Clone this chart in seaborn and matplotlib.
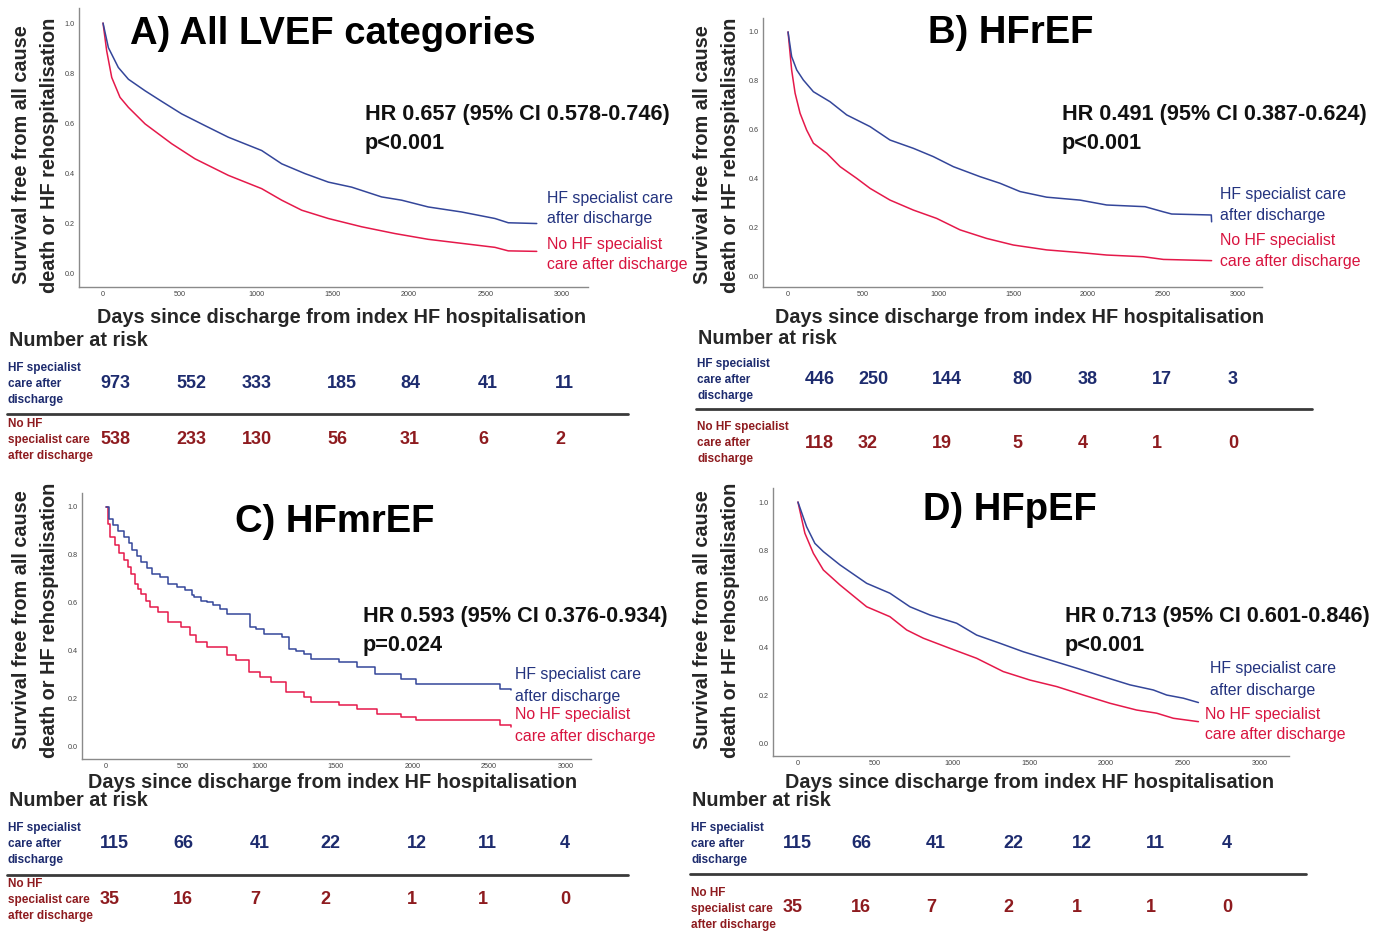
import seaborn as sns
import matplotlib.pyplot as plt
from matplotlib.ticker import FormatStrFormatter

W, H = 1386, 933

# ---------------- data ----------------
panel_titles = ["A) All LVEF categories", "B) HFrEF", "C) HFmrEF", "D) HFpEF"]
hr_texts = ["HR 0.657 (95% CI 0.578-0.746)", "HR 0.491 (95% CI 0.387-0.624)",
            "HR 0.593 (95% CI 0.376-0.934)", "HR 0.713 (95% CI 0.601-0.846)"]
p_texts = ["p<0.001", "p<0.001", "p=0.024", "p<0.001"]

x_ticks = [0, 500, 1000, 1500, 2000, 2500, 3000]
y_ticks = [0.0, 0.2, 0.4, 0.6, 0.8, 1.0]

# A) all LVEF
a_hf_days = [0, 35, 100, 166, 275, 383, 514, 667, 819, 1037, 1168, 1320, 1473, 1625, 1821,
             1952, 2126, 2344, 2453, 2562, 2649, 2835]
a_hf_surv = [1.0, 0.902, 0.823, 0.776, 0.73, 0.688, 0.638, 0.591, 0.545, 0.492, 0.439, 0.4,
             0.366, 0.346, 0.307, 0.294, 0.267, 0.247, 0.234, 0.221, 0.204, 0.201]
a_no_days = [0, 24, 57, 111, 166, 275, 449, 601, 819, 1037, 1168, 1299, 1473, 1691, 1908,
             2126, 2344, 2562, 2649, 2835]
a_no_surv = [1.0, 0.889, 0.783, 0.704, 0.664, 0.598, 0.519, 0.459, 0.393, 0.34, 0.294, 0.254,
             0.221, 0.188, 0.161, 0.138, 0.122, 0.106, 0.092, 0.09]

# B) HFrEF
b_hf_days = [0, 24, 58, 102, 169, 280, 391, 547, 680, 836, 969, 1102, 1280, 1413, 1547, 1724,
             1947, 2124, 2380, 2502, 2558, 2822, 2824]
b_hf_surv = [1.0, 0.899, 0.844, 0.803, 0.755, 0.714, 0.66, 0.612, 0.557, 0.523, 0.489, 0.448,
             0.407, 0.38, 0.346, 0.323, 0.311, 0.291, 0.284, 0.263, 0.254, 0.25, 0.222]
b_no_days = [0, 24, 47, 80, 124, 169, 258, 347, 458, 547, 680, 836, 991, 1147, 1324, 1502,
             1724, 1947, 2124, 2369, 2502, 2824]
b_no_surv = [1.0, 0.844, 0.749, 0.667, 0.598, 0.544, 0.503, 0.448, 0.4, 0.359, 0.311, 0.27,
             0.236, 0.189, 0.154, 0.127, 0.107, 0.096, 0.086, 0.079, 0.068, 0.063]

# C) HFmrEF (visible steps)
c_hf_days = [0, 20, 43, 80, 115, 150, 172, 200, 230, 265, 302, 350, 402, 460, 517, 560, 575,
             620, 661, 700, 747, 790, 943, 980, 1034, 1149, 1193, 1240, 1293, 1336, 1523,
             1638, 1753, 1925, 2026, 2572, 2644]
c_hf_surv = [1.0, 0.95, 0.924, 0.9, 0.875, 0.85, 0.819, 0.795, 0.771, 0.745, 0.722, 0.71,
             0.681, 0.665, 0.653, 0.635, 0.625, 0.61, 0.604, 0.59, 0.576, 0.556, 0.5, 0.49,
             0.472, 0.458, 0.41, 0.4, 0.389, 0.365, 0.354, 0.333, 0.306, 0.285, 0.264, 0.24,
             0.236]
c_no_days = [0, 15, 29, 60, 86, 115, 144, 165, 187, 210, 230, 260, 287, 340, 402, 489, 546,
             589, 661, 790, 850, 934, 1006, 1078, 1178, 1293, 1336, 1523, 1638, 1767, 1925,
             2026, 2572, 2644]
c_no_surv = [1.0, 0.93, 0.875, 0.84, 0.806, 0.78, 0.75, 0.72, 0.681, 0.66, 0.639, 0.61,
             0.583, 0.5625, 0.521, 0.5, 0.465, 0.4375, 0.417, 0.382, 0.364, 0.3125, 0.292,
             0.271, 0.229, 0.208, 0.1875, 0.174, 0.16, 0.139, 0.125, 0.111, 0.09, 0.083]

# D) HFpEF
d_hf_days = [0, 56, 110, 165, 273, 446, 597, 727, 857, 1030, 1160, 1312, 1463, 1636, 1810,
             1983, 2156, 2307, 2394, 2502, 2600]
d_hf_surv = [1.0, 0.898, 0.829, 0.795, 0.74, 0.664, 0.623, 0.567, 0.533, 0.499, 0.45, 0.416,
             0.381, 0.347, 0.313, 0.278, 0.244, 0.223, 0.202, 0.189, 0.171]
d_no_days = [0, 45, 100, 165, 273, 446, 597, 706, 814, 987, 1160, 1333, 1506, 1680, 1853,
             2026, 2199, 2329, 2437, 2600]
d_no_surv = [1.0, 0.871, 0.788, 0.719, 0.657, 0.567, 0.526, 0.471, 0.437, 0.395, 0.354, 0.299,
             0.264, 0.237, 0.202, 0.168, 0.14, 0.127, 0.106, 0.092]

# numbers at risk
a_risk_hf = [973, 552, 333, 185, 84, 41, 11]
a_risk_no = [538, 233, 130, 56, 31, 6, 2]
b_risk_hf = [446, 250, 144, 80, 38, 17, 3]
b_risk_no = [118, 32, 19, 5, 4, 1, 0]
c_risk_hf = [115, 66, 41, 22, 12, 11, 4]
c_risk_no = [35, 16, 7, 2, 1, 1, 0]
d_risk_hf = [115, 66, 41, 22, 12, 11, 4]
d_risk_no = [35, 16, 7, 2, 1, 1, 0]

leg_hf = ["HF specialist care", "after discharge"]
leg_no = ["No HF specialist", "care after discharge"]
row_hf = ["HF specialist", "care after", "discharge"]
row_no_a = ["No HF", "specialist care", "after discharge"]
row_no_b = ["No HF specialist", "care after", "discharge"]

# ---------------- layout (pixels) ----------------
LAYOUT = [
    dict(ax=(79, 8, 588, 287), xlim=(-157, 3170), ylim=(-0.052, 1.06), title=(130, 44),
         hr=(365, 120, 149), leg=(547, 547, [198, 219, 245, 265]), ylab=(22, 50, 155),
         xlab=(342, 318), nar=(9, 341), labx=8, r1=([368, 384, 400], 384), sep=(414, 7, 628),
         r2=([424, 440, 456], 440), cols=[100, 176, 242, 327, 400, 478, 555]),
    dict(ax=(763, 18, 1262, 287), xlim=(-167, 3160), ylim=(-0.045, 1.057), title=(928, 43),
         hr=(1062, 120, 149), leg=(1220, 1220, [194, 215, 240, 262]), ylab=(703, 731, 155),
         xlab=(1020, 318), nar=(698, 338), labx=697, r1=([364, 380, 396], 379), sep=(409, 696, 1312),
         r2=([427, 443, 459], 443), cols=[805, 858, 932, 1012, 1078, 1152, 1228]),
    dict(ax=(82, 493, 591, 759), xlim=(-157, 3166), ylim=(-0.05, 1.058), title=(235, 532),
         hr=(363, 622, 651), leg=(515, 515, [675, 696, 714, 736]), ylab=(22, 50, 620),
         xlab=(333, 783), nar=(9, 801), labx=8, r1=([828, 844, 860], 843), sep=(875, 7, 628),
         r2=([884, 900, 916], 900), cols=[100, 173, 250, 320, 407, 478, 560]),
    dict(ax=(773, 488, 1289, 756), xlim=(-162, 3188), ylim=(-0.05, 1.058), title=(923, 520),
         hr=(1065, 622, 651), leg=(1210, 1205, [669, 690, 714, 735]), ylab=(703, 731, 620),
         xlab=(1030, 783), nar=(692, 801), labx=691, r1=([828, 844, 860], 844), sep=(874, 690, 1306),
         r2=([893, 909, 925], 908), cols=[783, 851, 926, 1003, 1072, 1146, 1222]),
]

curves = [
    (a_hf_days, a_hf_surv, a_no_days, a_no_surv, "default"),
    (b_hf_days, b_hf_surv, b_no_days, b_no_surv, "default"),
    (c_hf_days, c_hf_surv, c_no_days, c_no_surv, "steps-post"),
    (d_hf_days, d_hf_surv, d_no_days, d_no_surv, "default"),
]
risks = [(a_risk_hf, a_risk_no, row_no_a), (b_risk_hf, b_risk_no, row_no_b),
         (c_risk_hf, c_risk_no, row_no_a), (d_risk_hf, d_risk_no, row_no_a)]

BLUE_LINE, RED_LINE = "#34469a", "#e5194a"
BLUE_TXT, RED_TXT = "#23337f", "#d8143f"
BLUE_TAB, RED_TAB = "#1d2b6e", "#8e1b1f"

sns.set_theme(style="white")
plt.rcParams["font.family"] = ["Liberation Sans", "DejaVu Sans"]

fig = plt.figure(figsize=(W / 100, H / 100), dpi=100)


def fx(x):
    return x / W


def fy(y):
    return 1 - y / H


for i, lay in enumerate(LAYOUT):
    l, t, r, b = lay["ax"]
    ax = fig.add_axes([fx(l), fy(b), (r - l) / W, (b - t) / H])
    hd, hs, nd, ns, style = curves[i]
    sns.lineplot(x=nd, y=ns, ax=ax, color=RED_LINE, lw=1.1, estimator=None, sort=False,
                 drawstyle=style)
    sns.lineplot(x=hd, y=hs, ax=ax, color=BLUE_LINE, lw=1.1, estimator=None, sort=False,
                 drawstyle=style)
    ax.set_xlim(*lay["xlim"])
    ax.set_ylim(*lay["ylim"])
    ax.set_xticks(x_ticks)
    ax.set_yticks(y_ticks)
    ax.yaxis.set_major_formatter(FormatStrFormatter("%.1f"))
    ax.tick_params(length=0, labelsize=5.2, labelcolor="#444444", pad=3)
    ax.set_xlabel("")
    ax.set_ylabel("")
    sns.despine(ax=ax)
    for s in ("left", "bottom"):
        ax.spines[s].set_color("#8a8a8a")
        ax.spines[s].set_linewidth(1.0)

    # titles and stats
    fig.text(fx(lay["title"][0]), fy(lay["title"][1]), panel_titles[i], fontsize=27.5,
             fontweight="bold", ha="left", va="baseline", color="black")
    hx, hy1, hy2 = lay["hr"]
    fig.text(fx(hx), fy(hy1), hr_texts[i], fontsize=15.6, fontweight="bold", ha="left",
             va="baseline", color="#111111")
    fig.text(fx(hx), fy(hy2), p_texts[i], fontsize=15.6, fontweight="bold", ha="left",
             va="baseline", color="#111111")

    # curve labels
    bx, rx, ly = lay["leg"]
    for k, s in enumerate(leg_hf):
        fig.text(fx(bx), fy(ly[k]), s, fontsize=11.4, color=BLUE_TXT, ha="left", va="center")
    for k, s in enumerate(leg_no):
        fig.text(fx(rx), fy(ly[k + 2]), s, fontsize=11.4, color=RED_TXT, ha="left", va="center")

    # axis labels
    y1x, y2x, yc = lay["ylab"]
    fig.text(fx(y1x), fy(yc), "Survival free from all cause", rotation=90, fontsize=14.3,
             fontweight="bold", ha="center", va="center")
    fig.text(fx(y2x), fy(yc), "death or HF rehospitalisation", rotation=90, fontsize=14.3,
             fontweight="bold", ha="center", va="center")
    fig.text(fx(lay["xlab"][0]), fy(lay["xlab"][1]),
             "Days since discharge from index HF hospitalisation", fontsize=14.3,
             fontweight="bold", ha="center", va="center")

    # number at risk table
    fig.text(fx(lay["nar"][0]), fy(lay["nar"][1]), "Number at risk", fontsize=14.2,
             fontweight="bold", ha="left", va="center")
    risk_hf, risk_no, row_no = risks[i]
    ys1, yn1 = lay["r1"]
    for k, s in enumerate(row_hf):
        fig.text(fx(lay["labx"]), fy(ys1[k]), s, fontsize=8.5, fontweight="bold",
                 color=BLUE_TAB, ha="left", va="center")
    ys2, yn2 = lay["r2"]
    for k, s in enumerate(row_no):
        fig.text(fx(lay["labx"]), fy(ys2[k]), s, fontsize=8.5, fontweight="bold",
                 color=RED_TAB, ha="left", va="center")
    for cx, v1, v2 in zip(lay["cols"], risk_hf, risk_no):
        fig.text(fx(cx), fy(yn1), str(v1), fontsize=13, fontweight="bold", color=BLUE_TAB,
                 ha="left", va="center")
        fig.text(fx(cx), fy(yn2), str(v2), fontsize=13, fontweight="bold", color=RED_TAB,
                 ha="left", va="center")
    sy, sx0, sx1 = lay["sep"]
    fig.add_artist(plt.Line2D([fx(sx0), fx(sx1)], [fy(sy), fy(sy)], color="#3a3a3a", lw=2,
                              transform=fig.transFigure))

fig.savefig("out.png", dpi=100, facecolor="white")
